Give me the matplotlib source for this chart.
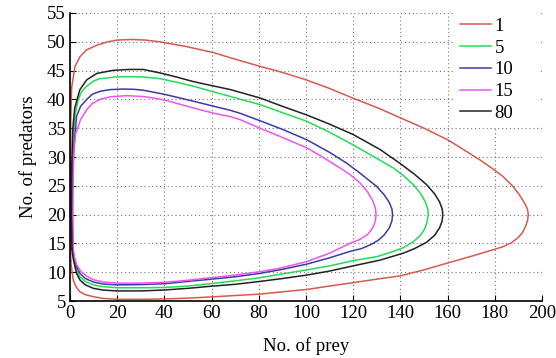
import numpy as np
import matplotlib
matplotlib.use('Agg')
import matplotlib.pyplot as plt

# pontos (presas, predadores), sentido horario
x1 = [0.3, 0.2, 0.2, 0.3, 0.7, 2.1, 4.2, 7.0, 11.3, 16, 20, 26, 32, 38, 49, 61, 69, 80, 89, 100, 110, 120, 130, 140, 150, 160,
      166.7, 173.7, 179, 183.5, 187.5, 190.5, 192.6, 193.8, 194.2, 193.9, 193.0, 191.6, 189.6, 187.0, 183.6, 179.4, 169.5, 159.6, 150, 139.8,
      130, 122.9, 118.6, 110, 100.3, 90, 80.5, 70, 59.3, 50, 39.5, 30, 19.8, 14, 9.9, 6.5, 4.2, 2.5, 1.4, 0.7, 0.3]
y1 = [12, 20, 30, 36, 42, 45.7, 47.4, 48.6, 49.4, 50.0, 50.3, 50.4, 50.3, 50.0, 49.2, 48.1, 47.1, 45.8, 44.8, 43.4, 41.9, 40.2, 38.6, 36.8, 35.0, 33.0,
      31.3, 29.5, 28.0, 26.6, 25.0, 23.4, 22.0, 21.0, 20.0, 19.0, 17.9, 16.8, 15.9, 15.1, 14.45, 13.9, 12.7, 11.55, 10.4, 9.35,
      8.8, 8.36, 8.1, 7.6, 7.0, 6.6, 6.2, 5.95, 5.7, 5.5, 5.35, 5.3, 5.3, 5.45, 5.75, 6.1, 6.6, 7.5, 8.65, 10.5, 12]

x5 = [1.0, 0.8, 0.9, 1.5, 2.2, 3.5, 5.0, 7.1, 10, 12.7, 19.8, 25, 31, 38.1, 45, 52.2, 60, 68, 80.5, 90, 100.3, 110, 120, 128.5,
      137, 141.5, 145.5, 148.5, 150.6, 151.6, 151.8, 151.4, 150.4, 148.5, 145.5, 141.5, 137, 130, 120, 110, 100.3, 90, 80.5, 70, 59.3,
      50, 40, 30, 20, 14, 9.9, 6.5, 4.2, 2.8, 1.8, 1.0]
y5 = [14, 20, 28, 34, 37.5, 40, 41.4, 42.3, 43.2, 43.6, 43.9, 43.95, 43.9, 43.6, 43.0, 42.3, 41.4, 40.5, 39.1, 37.7, 36.2, 34.3, 32.1, 30.1,
      28.1, 26.7, 25.2, 23.7, 22.2, 21.0, 20.0, 18.9, 17.6, 16.4, 15.3, 14.3, 13.6, 12.7, 12.0, 11.1, 10.4, 9.7, 9.05, 8.5, 8.0,
      7.6, 7.35, 7.3, 7.3, 7.5, 7.8, 8.4, 9.2, 10.3, 11.8, 14]

x10 = [1.2, 1.0, 1.1, 1.7, 2.8, 4.5, 7.1, 9.5, 12.7, 17, 22.6, 27, 31, 36, 40.9, 48, 55.1, 62, 68, 72, 80.5, 90, 100.3, 110, 117,
       122.9, 126.5, 129.9, 133, 135.3, 136.4, 136.7, 136.4, 135.3, 133.2, 130.5, 127.5, 123.5, 118.6, 110, 100.3, 90, 80.5, 70, 57.6,
       50, 40, 30, 20, 14, 9.9, 6.5, 4.2, 2.8, 1.8, 1.2]
y10 = [14, 20, 27, 32, 37.1, 38.8, 40, 40.9, 41.4, 41.7, 41.8, 41.75, 41.6, 41.2, 40.8, 40.1, 39.4, 38.7, 38.1, 37.6, 36.3, 34.8, 33.0, 30.8, 29.0,
       27.2, 26.0, 24.9, 23.5, 22.1, 21.0, 20.0, 18.9, 17.7, 16.5, 15.5, 14.8, 14.1, 13.6, 12.5, 11.4, 10.5, 9.8, 9.2, 8.7,
       8.4, 8.0, 7.85, 7.8, 7.95, 8.3, 8.9, 9.8, 11.0, 12.5, 14]

x15 = [1.4, 1.2, 1.3, 1.7, 2.4, 4.5, 7.1, 9.5, 12.7, 17, 24, 31, 36, 40.9, 48, 55.1, 62, 68, 72, 80.5, 90, 100.3, 107, 114.4,
       118.5, 122.9, 126, 128.3, 129.4, 129.7, 129.4, 128.3, 126.2, 122.9, 118.6, 110, 100, 89, 80.5, 70, 57.6, 50, 40, 30, 20, 14,
       9.9, 7.1, 4.5, 2.8, 1.8, 1.4]
y15 = [14, 20, 26, 31.3, 34, 36.5, 38.2, 39.3, 40, 40.45, 40.65, 40.5, 40.2, 39.8, 39.0, 38.2, 37.5, 37.0, 36.5, 35.0, 33.4, 31.6, 30.0, 28.1,
       27.0, 25.5, 24.0, 22.4, 21.1, 20.0, 18.9, 17.7, 16.6, 15.7, 15.0, 13.3, 11.8, 10.7, 10.1, 9.5, 8.95, 8.6, 8.25, 8.1, 8.1, 8.3,
       8.7, 9.3, 10.2, 11.3, 12.7, 14]

x80 = [0.8, 0.6, 0.7, 1.2, 2.0, 4.2, 7.1, 11.3, 18.3, 25, 31, 38.1, 45, 52.2, 60, 68, 80.5, 90, 100.3, 110, 120, 131.4,
       139.8, 146, 151.1, 154.5, 156.6, 157.7, 158.0, 157.7, 156.6, 154.5, 151.1, 146, 141.2, 131.4, 120, 110, 100.3, 90, 80.5, 70,
       59.3, 50, 39.5, 30, 19.8, 14, 9.9, 6.5, 4.2, 2.8, 2.1, 1.3, 0.8]
y80 = [14, 20, 28, 35, 38.5, 41.7, 43.4, 44.5, 45.05, 45.2, 45.2, 44.6, 43.9, 43.1, 42.4, 41.7, 40.25, 38.8, 37.3, 35.7, 33.9, 31.3,
       28.9, 27.0, 25.2, 23.6, 22.2, 21.0, 20.0, 18.9, 17.7, 16.4, 15.2, 14.1, 13.3, 12.1, 11.1, 10.2, 9.5, 8.9, 8.4, 7.9,
       7.55, 7.2, 6.9, 6.75, 6.75, 6.9, 7.2, 7.8, 8.65, 9.8, 11.0, 12.5, 14]

rotulos = ['1', '5', '10', '15', '80']
cores = ['#d65a4e', '#22dd55', '#3a3aa8', '#ee55ee', '#222222']

plt.rcParams['font.family'] = ['Liberation Serif', 'DejaVu Serif']
plt.rcParams['font.size'] = 13.5

fig = plt.figure(figsize=(5.56, 3.58), dpi=100)
ax = fig.add_axes([0.1259, 0.1592, 0.8489, 0.8045])

series = [(x1, y1), (x5, y5), (x10, y10), (x15, y15), (x80, y80)]
for (xs, ys), lab, c in zip(series, rotulos, cores):
    ax.plot(xs, ys, color=c, lw=1.1, label=lab)

ax.set_xlim(0, 200)
ax.set_ylim(5, 55)
ax.set_xticks(np.arange(0, 201, 20))
ax.set_yticks(np.arange(5, 56, 5))
ax.grid(True, color='#777777', linestyle=(0, (1, 2.5)), linewidth=0.8)
ax.tick_params(direction='in', length=4, width=0.8, top=False, right=False, pad=3)
for s in ['top', 'right']:
    ax.spines[s].set_visible(False)
for s in ['left', 'bottom']:
    ax.spines[s].set_linewidth(1.2)

ax.set_xlabel('No. of prey', labelpad=11)
ax.set_ylabel('No. of predators', labelpad=7)

# caixa da legenda branca, sem borda, ocupando o canto superior direito
leg = ax.legend(loc='upper left', bbox_to_anchor=(0.816, 0.0, 0.179, 1.0), mode='expand',
                frameon=True, fancybox=False, framealpha=1,
                edgecolor='none', facecolor='white', handlelength=1.65,
                handletextpad=0.2, labelspacing=0.25, borderaxespad=0.0,
                borderpad=0.25)

fig.savefig('out.png', dpi=100)
